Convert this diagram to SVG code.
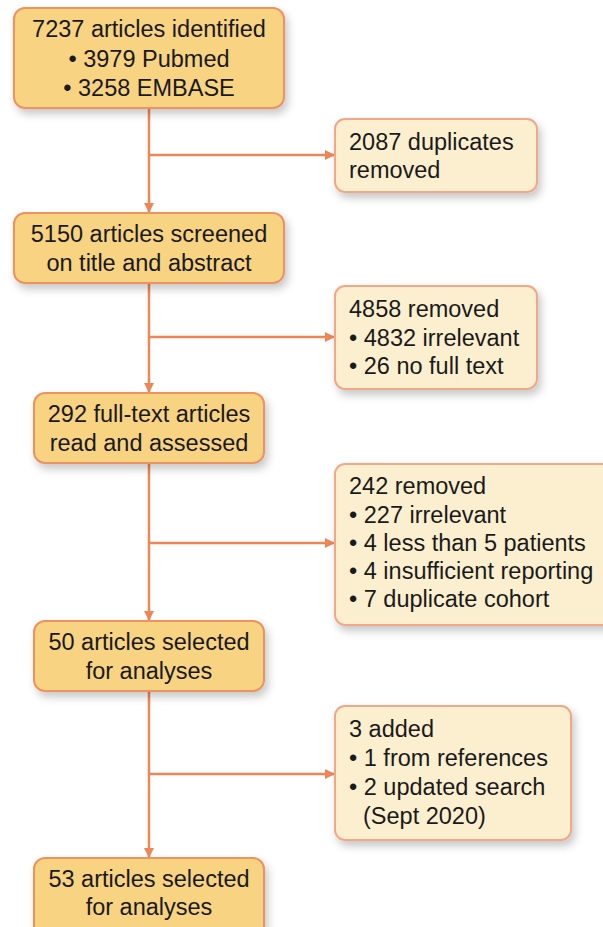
<svg xmlns="http://www.w3.org/2000/svg" width="603" height="927" viewBox="0 0 603 927">
<style>
.main{fill:#F8D382;stroke:#EE9262;stroke-width:2}
.side{fill:#FCEFCF;stroke:#F2A888;stroke-width:2}
text{font-family:"Liberation Sans",Arial,sans-serif;font-size:23.5px;fill:#1a1a1a}
.c{text-anchor:middle}
.ln{stroke:#EE8656;stroke-width:2.5;fill:none}
</style>
<defs>
<filter id="sh" x="-10%" y="-10%" width="130%" height="140%">
<feDropShadow dx="3" dy="5" stdDeviation="4" flood-color="#000" flood-opacity="0.22"/>
</filter>
<marker id="ar" markerWidth="10" markerHeight="10" refX="9" refY="5" orient="auto" markerUnits="userSpaceOnUse">
<path d="M0,0 L10,5 L0,10 Z" fill="#EE8656"/>
</marker>
</defs>
<g id="connectors">
<line class="ln" x1="149" y1="108" x2="149" y2="212" marker-end="url(#ar)"/>
<line class="ln" x1="149" y1="155" x2="334" y2="155" marker-end="url(#ar)"/>
<line class="ln" x1="149" y1="283" x2="149" y2="392" marker-end="url(#ar)"/>
<line class="ln" x1="149" y1="337" x2="334" y2="337" marker-end="url(#ar)"/>
<line class="ln" x1="149" y1="463" x2="149" y2="620" marker-end="url(#ar)"/>
<line class="ln" x1="149" y1="543" x2="334" y2="543" marker-end="url(#ar)"/>
<line class="ln" x1="149" y1="691" x2="149" y2="857" marker-end="url(#ar)"/>
<line class="ln" x1="149" y1="774" x2="334" y2="774" marker-end="url(#ar)"/>
</g>
<g id="n1">
<rect class="main" filter="url(#sh)" x="14" y="8" width="270" height="100" rx="11"/>
<text class="c" x="149" y="37">7237 articles identified</text>
<text class="c" x="149" y="67">• 3979 Pubmed</text>
<text class="c" x="149" y="96">• 3258 EMBASE</text>
</g>
<g id="n2">
<rect class="side" filter="url(#sh)" x="335" y="119" width="202" height="73" rx="10"/>
<text x="349" y="150">2087 duplicates</text>
<text x="349" y="178">removed</text>
</g>
<g id="n3">
<rect class="main" filter="url(#sh)" x="14" y="213" width="270" height="70" rx="11"/>
<text class="c" x="149" y="242">5150 articles screened</text>
<text class="c" x="149" y="271">on title and abstract</text>
</g>
<g id="n4">
<rect class="side" filter="url(#sh)" x="335" y="286" width="202" height="103" rx="10"/>
<text x="349" y="317">4858 removed</text>
<text x="349" y="346">• 4832 irrelevant</text>
<text x="349" y="374">• 26 no full text</text>
</g>
<g id="n5">
<rect class="main" filter="url(#sh)" x="34" y="393" width="230" height="70" rx="11"/>
<text class="c" x="149" y="422">292 full-text articles</text>
<text class="c" x="149" y="451">read and assessed</text>
</g>
<g id="n6">
<rect class="side" filter="url(#sh)" x="335" y="464" width="280" height="161" rx="10"/>
<text x="349" y="494">242 removed</text>
<text x="349" y="523">• 227 irrelevant</text>
<text x="349" y="551">• 4 less than 5 patients</text>
<text x="349" y="579">• 4 insufficient reporting</text>
<text x="349" y="607">• 7 duplicate cohort</text>
</g>
<g id="n7">
<rect class="main" filter="url(#sh)" x="34" y="621" width="230" height="70" rx="11"/>
<text class="c" x="149" y="650">50 articles selected</text>
<text class="c" x="149" y="679">for analyses</text>
</g>
<g id="n8">
<rect class="side" filter="url(#sh)" x="335" y="706" width="236" height="134" rx="10"/>
<text x="349" y="737">3 added</text>
<text x="349" y="766">• 1 from references</text>
<text x="349" y="795">• 2 updated search</text>
<text x="363" y="824">(Sept 2020)</text>
</g>
<g id="n9">
<rect class="main" filter="url(#sh)" x="34" y="858" width="230" height="80" rx="11"/>
<text class="c" x="149" y="887">53 articles selected</text>
<text class="c" x="149" y="915">for analyses</text>
</g>
</svg>
